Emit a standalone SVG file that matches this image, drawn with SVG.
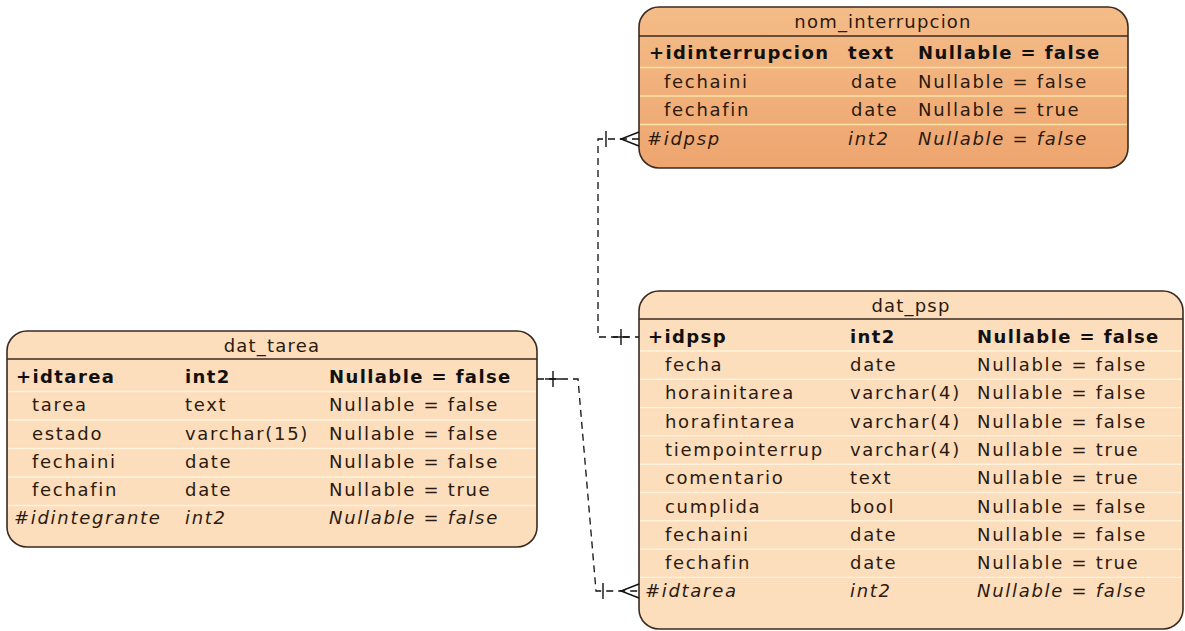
<svg xmlns="http://www.w3.org/2000/svg" width="1185" height="631" viewBox="0 0 1185 631">
  <defs>
    <linearGradient id="selFill" x1="0" y1="0" x2="0" y2="1">
      <stop offset="0" stop-color="#F4BC88"/>
      <stop offset="1" stop-color="#EEA56F"/>
    </linearGradient>
    <style>
      .box { stroke: #3a2a20; stroke-width: 1.6; }
      .plain { fill: #FCDDBC; }
      .sel { fill: url(#selFill); }
      .hsep { stroke: #3a2a20; stroke-width: 1.6; }
      .rsep { stroke: #FFF3DD; stroke-width: 1.4; }
      .rsepSel { stroke: #FBE3A6; stroke-width: 1.4; }
      text { font-family: "DejaVu Sans", Verdana, sans-serif; font-size: 18px; fill: #2a1a10; letter-spacing: 1.7px; }
      .title { text-anchor: middle; letter-spacing: 1.2px; }
      .key { font-weight: bold; fill: #111; letter-spacing: 1.4px; }
      .fk { font-style: italic; }
      .conn { fill: none; stroke: #111; stroke-width: 1.3; stroke-dasharray: 7 5; }
      .mark { fill: none; stroke: #111; stroke-width: 1.4; }
    </style>
  </defs>

  <rect width="1185" height="631" fill="#ffffff"/>

  <!-- nom_interrupcion -->
  <g id="nom_interrupcion">
    <rect class="sel" x="639" y="7" width="489" height="161" rx="20"/>
    <line class="rsepSel" x1="640" y1="67.5" x2="1127" y2="67.5"/>
    <line class="rsepSel" x1="640" y1="96" x2="1127" y2="96"/>
    <line class="rsepSel" x1="640" y1="124.5" x2="1127" y2="124.5"/>
    <line class="hsep" x1="639" y1="36" x2="1128" y2="36"/>
    <rect class="box" x="639" y="7" width="489" height="161" rx="20" fill="none"/>
    <text class="title" x="883" y="28">nom_interrupcion</text>
    <text class="key" x="649" y="59">+idinterrupcion</text>
    <text class="key" x="848" y="59">text</text>
    <text class="key" x="918" y="59">Nullable = false</text>
    <text x="664" y="88">fechaini</text>
    <text x="851" y="88">date</text>
    <text x="918" y="88">Nullable = false</text>
    <text x="664" y="116">fechafin</text>
    <text x="851" y="116">date</text>
    <text x="918" y="116">Nullable = true</text>
    <text class="fk" x="647" y="145">#idpsp</text>
    <text class="fk" x="848" y="145">int2</text>
    <text class="fk" x="918" y="145">Nullable = false</text>
  </g>

  <!-- dat_tarea -->
  <g id="dat_tarea">
    <rect class="plain" x="7" y="331" width="530" height="216" rx="20"/>
    <line class="rsep" x1="8" y1="391.5" x2="536" y2="391.5"/>
    <line class="rsep" x1="8" y1="420" x2="536" y2="420"/>
    <line class="rsep" x1="8" y1="448.5" x2="536" y2="448.5"/>
    <line class="rsep" x1="8" y1="477" x2="536" y2="477"/>
    <line class="rsep" x1="8" y1="505.5" x2="536" y2="505.5"/>
    <line class="hsep" x1="7" y1="359" x2="537" y2="359"/>
    <rect class="box" x="7" y="331" width="530" height="216" rx="20" fill="none"/>
    <text class="title" x="272" y="352">dat_tarea</text>
    <text class="key" x="16" y="383">+idtarea</text>
    <text class="key" x="185" y="383">int2</text>
    <text class="key" x="329" y="383">Nullable = false</text>
    <text x="32" y="411">tarea</text>
    <text x="185" y="411">text</text>
    <text x="329" y="411">Nullable = false</text>
    <text x="32" y="440">estado</text>
    <text x="185" y="440">varchar(15)</text>
    <text x="329" y="440">Nullable = false</text>
    <text x="32" y="468">fechaini</text>
    <text x="185" y="468">date</text>
    <text x="329" y="468">Nullable = false</text>
    <text x="32" y="496">fechafin</text>
    <text x="185" y="496">date</text>
    <text x="329" y="496">Nullable = true</text>
    <text class="fk" x="14" y="524">#idintegrante</text>
    <text class="fk" x="185" y="524">int2</text>
    <text class="fk" x="329" y="524">Nullable = false</text>
  </g>

  <!-- dat_psp -->
  <g id="dat_psp">
    <rect class="plain" x="639" y="291" width="544" height="338" rx="20"/>
    <line class="rsep" x1="640" y1="351" x2="1182" y2="351"/>
    <line class="rsep" x1="640" y1="379.3" x2="1182" y2="379.3"/>
    <line class="rsep" x1="640" y1="407.6" x2="1182" y2="407.6"/>
    <line class="rsep" x1="640" y1="435.9" x2="1182" y2="435.9"/>
    <line class="rsep" x1="640" y1="464.2" x2="1182" y2="464.2"/>
    <line class="rsep" x1="640" y1="492.5" x2="1182" y2="492.5"/>
    <line class="rsep" x1="640" y1="520.8" x2="1182" y2="520.8"/>
    <line class="rsep" x1="640" y1="549.1" x2="1182" y2="549.1"/>
    <line class="rsep" x1="640" y1="577.4" x2="1182" y2="577.4"/>
    <line class="hsep" x1="639" y1="319" x2="1183" y2="319"/>
    <rect class="box" x="639" y="291" width="544" height="338" rx="20" fill="none"/>
    <text class="title" x="911" y="312">dat_psp</text>
    <text class="key" x="648" y="343">+idpsp</text>
    <text class="key" x="850" y="343">int2</text>
    <text class="key" x="977" y="343">Nullable = false</text>
    <text x="665" y="371">fecha</text>
    <text x="850" y="371">date</text>
    <text x="977" y="371">Nullable = false</text>
    <text x="665" y="399">horainitarea</text>
    <text x="850" y="399">varchar(4)</text>
    <text x="977" y="399">Nullable = false</text>
    <text x="665" y="428">horafintarea</text>
    <text x="850" y="428">varchar(4)</text>
    <text x="977" y="428">Nullable = false</text>
    <text x="665" y="456">tiempointerrup</text>
    <text x="850" y="456">varchar(4)</text>
    <text x="977" y="456">Nullable = true</text>
    <text x="665" y="484">comentario</text>
    <text x="850" y="484">text</text>
    <text x="977" y="484">Nullable = true</text>
    <text x="665" y="513">cumplida</text>
    <text x="850" y="513">bool</text>
    <text x="977" y="513">Nullable = false</text>
    <text x="665" y="541">fechaini</text>
    <text x="850" y="541">date</text>
    <text x="977" y="541">Nullable = false</text>
    <text x="665" y="569">fechafin</text>
    <text x="850" y="569">date</text>
    <text x="977" y="569">Nullable = true</text>
    <text class="fk" x="645" y="597">#idtarea</text>
    <text class="fk" x="850" y="597">int2</text>
    <text class="fk" x="977" y="597">Nullable = false</text>
  </g>

  <!-- relationships -->
  <g id="connectors">
    <!-- dat_psp.idpsp  1 ——< nom_interrupcion.idpsp -->
    <path class="conn" d="M639,139 L598,139 L598,337 L639,337"/>
    <line class="mark" x1="606" y1="131" x2="606" y2="147"/>
    <path class="mark" d="M639,132 L621,139 L639,146"/>
    <line class="mark" x1="621" y1="329" x2="621" y2="345"/>
    <line class="mark" x1="613" y1="337" x2="629" y2="337"/>

    <!-- dat_tarea.idtarea  1 ——< dat_psp.idtarea -->
    <path class="conn" d="M537,379 L578,379 L596,591 L639,591"/>
    <line class="mark" x1="553" y1="371" x2="553" y2="387"/>
    <line class="mark" x1="545" y1="379" x2="561" y2="379"/>
    <line class="mark" x1="603" y1="583" x2="603" y2="599"/>
    <path class="mark" d="M639,584 L621,591 L639,598"/>
  </g>
</svg>
